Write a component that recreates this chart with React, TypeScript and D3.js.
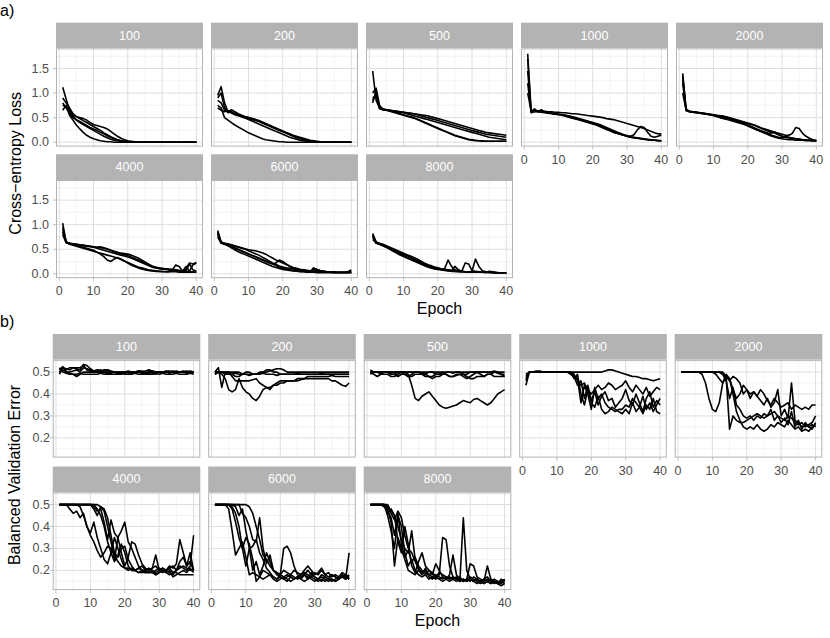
import React from 'react';
import * as d3 from 'd3';

// ---------- categories / ticks ----------
const epochs = d3.range(1, 41);
const panelLabels = ['100', '200', '500', '1000', '2000', '4000', '6000', '8000'];
const xTicks = [0, 10, 20, 30, 40];
const xMinor = [5, 15, 25, 35];
const lossYTicks = [0, 0.5, 1.0, 1.5];
const lossYMinor = [0.25, 0.75, 1.25, 1.75];
const errYTicks = [0.2, 0.3, 0.4, 0.5];
const errYMinor = [0.15, 0.25, 0.35, 0.45, 0.55];

// ---------- a) cross-entropy loss ----------
const loss100 = [
  [1.12,0.88,0.65,0.55,0.52,0.50,0.48,0.45,0.40,0.36,0.34,0.32,0.30,0.27,0.22,0.17,0.12,0.08,0.05,0.03,0.02,0.01,0.01,0.01,0.01,0.01,0,0,0,0,0,0,0,0,0,0,0,0,0,0],
  [0.90,0.80,0.70,0.58,0.52,0.48,0.44,0.40,0.36,0.32,0.28,0.24,0.19,0.15,0.11,0.08,0.05,0.03,0.02,0.01,0.01,0,0,0,0,0,0,0,0,0,0,0,0,0,0,0,0,0,0,0],
  [0.75,0.72,0.62,0.52,0.45,0.40,0.36,0.32,0.28,0.24,0.20,0.16,0.12,0.09,0.06,0.04,0.03,0.02,0.01,0.01,0,0,0,0,0,0,0,0,0,0,0,0,0,0,0,0,0,0,0,0],
  [0.65,0.75,0.55,0.45,0.35,0.27,0.20,0.14,0.10,0.07,0.05,0.03,0.02,0.01,0.01,0,0,0,0,0,0,0,0,0,0,0,0,0,0,0,0,0,0,0,0,0,0,0,0,0],
  [0.80,0.70,0.58,0.50,0.46,0.42,0.38,0.34,0.30,0.27,0.24,0.20,0.17,0.13,0.10,0.07,0.05,0.03,0.02,0.01,0.01,0,0,0,0,0,0,0,0,0,0,0,0,0,0,0,0,0,0,0],
];
const loss200 = [
  [0.95,1.13,0.80,0.62,0.60,0.58,0.56,0.54,0.52,0.50,0.48,0.46,0.43,0.40,0.37,0.34,0.31,0.28,0.25,0.22,0.19,0.16,0.13,0.10,0.08,0.06,0.04,0.03,0.02,0.01,0.01,0,0,0,0,0,0,0,0,0],
  [0.75,0.70,0.50,0.45,0.40,0.35,0.31,0.27,0.23,0.19,0.16,0.13,0.10,0.07,0.05,0.04,0.03,0.02,0.01,0.01,0,0,0,0,0,0,0,0,0,0,0,0,0,0,0,0,0,0,0,0],
  [0.70,0.65,0.62,0.64,0.60,0.56,0.54,0.52,0.50,0.48,0.46,0.44,0.42,0.39,0.36,0.33,0.30,0.27,0.24,0.21,0.18,0.15,0.12,0.09,0.07,0.05,0.03,0.02,0.01,0.01,0,0,0,0,0,0,0,0,0,0],
  [0.90,1.00,0.70,0.60,0.62,0.58,0.55,0.52,0.49,0.46,0.43,0.40,0.37,0.34,0.31,0.28,0.25,0.22,0.19,0.16,0.13,0.10,0.08,0.06,0.04,0.03,0.02,0.01,0.01,0,0,0,0,0,0,0,0,0,0,0],
  [0.85,0.80,0.65,0.62,0.66,0.62,0.58,0.55,0.52,0.50,0.48,0.46,0.44,0.41,0.38,0.35,0.32,0.29,0.26,0.23,0.20,0.17,0.14,0.12,0.10,0.08,0.06,0.04,0.03,0.02,0.01,0.01,0.01,0,0,0,0,0,0,0],
];
const loss500 = [
  [1.00,1.10,0.75,0.66,0.66,0.65,0.64,0.63,0.62,0.61,0.60,0.59,0.58,0.57,0.56,0.55,0.54,0.52,0.50,0.48,0.46,0.44,0.42,0.40,0.38,0.36,0.34,0.32,0.30,0.28,0.26,0.24,0.22,0.20,0.19,0.18,0.17,0.16,0.15,0.14],
  [1.45,0.85,0.70,0.67,0.66,0.65,0.64,0.63,0.62,0.61,0.60,0.59,0.58,0.56,0.54,0.52,0.50,0.48,0.46,0.44,0.42,0.40,0.38,0.36,0.34,0.32,0.30,0.28,0.26,0.24,0.22,0.20,0.18,0.16,0.15,0.14,0.13,0.12,0.11,0.10],
  [0.80,1.05,0.70,0.66,0.65,0.64,0.63,0.62,0.61,0.60,0.58,0.56,0.54,0.52,0.50,0.48,0.46,0.44,0.42,0.40,0.38,0.36,0.34,0.32,0.30,0.28,0.26,0.24,0.22,0.20,0.18,0.16,0.14,0.12,0.10,0.09,0.08,0.07,0.06,0.05],
  [0.90,0.95,0.72,0.68,0.66,0.64,0.62,0.60,0.58,0.56,0.54,0.52,0.50,0.47,0.44,0.41,0.38,0.35,0.32,0.29,0.26,0.23,0.20,0.17,0.14,0.12,0.10,0.08,0.06,0.05,0.04,0.03,0.03,0.02,0.02,0.02,0.02,0.02,0.02,0.02],
  [0.85,1.00,0.68,0.66,0.65,0.63,0.61,0.59,0.57,0.55,0.53,0.51,0.49,0.46,0.43,0.40,0.37,0.34,0.31,0.28,0.25,0.22,0.19,0.16,0.13,0.11,0.09,0.07,0.05,0.04,0.03,0.03,0.02,0.02,0.02,0.02,0.02,0.02,0.02,0.02],
];
const loss1000 = [
  [1.80,0.65,0.64,0.64,0.63,0.63,0.62,0.62,0.61,0.61,0.60,0.60,0.59,0.58,0.58,0.57,0.56,0.55,0.54,0.53,0.52,0.51,0.50,0.48,0.47,0.46,0.44,0.42,0.40,0.38,0.36,0.34,0.32,0.30,0.28,0.25,0.22,0.19,0.17,0.17],
  [1.45,0.62,0.68,0.62,0.62,0.61,0.60,0.59,0.58,0.57,0.56,0.55,0.54,0.52,0.50,0.48,0.46,0.44,0.42,0.40,0.38,0.36,0.33,0.30,0.27,0.24,0.21,0.18,0.15,0.13,0.12,0.15,0.25,0.32,0.30,0.20,0.12,0.10,0.12,0.14],
  [1.20,0.62,0.63,0.62,0.66,0.61,0.60,0.59,0.58,0.57,0.56,0.54,0.52,0.50,0.48,0.46,0.44,0.42,0.40,0.38,0.36,0.33,0.30,0.27,0.24,0.21,0.18,0.16,0.14,0.12,0.10,0.09,0.08,0.07,0.06,0.05,0.04,0.04,0.03,0.03],
  [1.00,0.64,0.64,0.62,0.62,0.61,0.60,0.59,0.58,0.57,0.56,0.55,0.53,0.51,0.49,0.47,0.45,0.43,0.41,0.39,0.37,0.34,0.31,0.28,0.25,0.22,0.19,0.17,0.15,0.13,0.11,0.10,0.09,0.08,0.07,0.06,0.05,0.04,0.04,0.03],
  [1.70,0.60,0.62,0.63,0.61,0.60,0.59,0.58,0.57,0.56,0.55,0.53,0.51,0.49,0.47,0.45,0.43,0.41,0.39,0.37,0.35,0.32,0.29,0.26,0.23,0.20,0.18,0.16,0.14,0.12,0.10,0.09,0.08,0.07,0.06,0.05,0.04,0.04,0.03,0.03],
];
const loss2000 = [
  [1.40,0.68,0.62,0.62,0.61,0.60,0.59,0.58,0.57,0.56,0.55,0.54,0.53,0.51,0.49,0.47,0.45,0.43,0.41,0.39,0.37,0.35,0.32,0.29,0.27,0.25,0.22,0.20,0.18,0.16,0.14,0.14,0.18,0.30,0.28,0.18,0.12,0.08,0.05,0.04],
  [1.20,0.65,0.62,0.61,0.60,0.59,0.58,0.57,0.56,0.55,0.54,0.52,0.50,0.48,0.46,0.44,0.42,0.40,0.37,0.34,0.31,0.28,0.25,0.22,0.20,0.18,0.19,0.20,0.15,0.12,0.10,0.09,0.08,0.07,0.06,0.05,0.05,0.04,0.04,0.03],
  [1.30,0.66,0.63,0.62,0.61,0.60,0.59,0.58,0.57,0.56,0.54,0.50,0.52,0.50,0.48,0.46,0.44,0.41,0.38,0.35,0.32,0.29,0.26,0.23,0.20,0.17,0.14,0.12,0.10,0.09,0.12,0.10,0.08,0.07,0.06,0.05,0.04,0.04,0.03,0.03],
  [1.35,0.64,0.62,0.61,0.60,0.59,0.58,0.57,0.56,0.55,0.54,0.53,0.52,0.50,0.48,0.46,0.44,0.42,0.40,0.38,0.36,0.34,0.31,0.28,0.25,0.22,0.22,0.18,0.15,0.12,0.10,0.09,0.08,0.07,0.06,0.05,0.04,0.04,0.03,0.03],
  [1.00,0.66,0.63,0.62,0.61,0.60,0.59,0.58,0.56,0.54,0.52,0.50,0.48,0.46,0.44,0.42,0.40,0.38,0.36,0.33,0.30,0.27,0.24,0.21,0.18,0.15,0.12,0.10,0.08,0.07,0.06,0.05,0.05,0.04,0.04,0.04,0.03,0.03,0.03,0.03],
];
const loss4000 = [
  [1.03,0.65,0.62,0.61,0.60,0.59,0.58,0.57,0.56,0.55,0.54,0.55,0.53,0.51,0.48,0.45,0.43,0.41,0.39,0.37,0.34,0.31,0.28,0.25,0.22,0.19,0.16,0.14,0.12,0.11,0.10,0.09,0.08,0.07,0.06,0.05,0.05,0.04,0.04,0.03],
  [0.85,0.64,0.62,0.60,0.58,0.56,0.54,0.52,0.50,0.48,0.44,0.40,0.35,0.28,0.25,0.30,0.33,0.30,0.26,0.22,0.18,0.15,0.12,0.10,0.08,0.07,0.06,0.05,0.05,0.04,0.04,0.04,0.08,0.18,0.15,0.05,0.10,0.22,0.20,0.23],
  [0.80,0.63,0.61,0.60,0.59,0.58,0.57,0.56,0.55,0.54,0.52,0.50,0.48,0.46,0.44,0.42,0.40,0.38,0.36,0.34,0.32,0.29,0.26,0.23,0.20,0.17,0.14,0.12,0.11,0.10,0.10,0.09,0.09,0.08,0.07,0.06,0.06,0.20,0.08,0.05],
  [0.95,0.65,0.62,0.61,0.60,0.59,0.58,0.57,0.56,0.55,0.54,0.53,0.52,0.50,0.48,0.46,0.44,0.42,0.41,0.40,0.38,0.35,0.32,0.28,0.24,0.20,0.16,0.13,0.11,0.10,0.09,0.08,0.07,0.06,0.05,0.05,0.15,0.05,0.18,0.22],
  [0.90,0.64,0.60,0.58,0.56,0.54,0.52,0.50,0.48,0.46,0.44,0.42,0.40,0.38,0.36,0.34,0.32,0.29,0.26,0.23,0.20,0.17,0.14,0.12,0.10,0.08,0.07,0.06,0.05,0.05,0.04,0.04,0.04,0.04,0.03,0.03,0.03,0.03,0.03,0.03],
];
const loss6000 = [
  [0.88,0.65,0.62,0.61,0.59,0.57,0.55,0.53,0.51,0.49,0.48,0.47,0.45,0.43,0.40,0.36,0.32,0.28,0.25,0.22,0.19,0.16,0.13,0.11,0.09,0.08,0.07,0.06,0.05,0.05,0.04,0.04,0.03,0.03,0.03,0.03,0.03,0.03,0.04,0.08],
  [0.80,0.63,0.60,0.58,0.55,0.52,0.49,0.46,0.43,0.40,0.37,0.34,0.31,0.28,0.25,0.22,0.20,0.22,0.28,0.25,0.20,0.15,0.12,0.10,0.08,0.07,0.06,0.05,0.10,0.08,0.06,0.05,0.04,0.04,0.03,0.03,0.03,0.03,0.03,0.03],
  [0.85,0.64,0.61,0.59,0.56,0.53,0.50,0.47,0.44,0.41,0.38,0.35,0.32,0.29,0.26,0.23,0.20,0.17,0.14,0.12,0.10,0.08,0.07,0.06,0.05,0.05,0.04,0.04,0.12,0.09,0.06,0.04,0.03,0.03,0.02,0.02,0.02,0.02,0.02,0.02],
  [0.75,0.62,0.60,0.57,0.53,0.49,0.45,0.42,0.39,0.36,0.33,0.30,0.27,0.24,0.21,0.18,0.15,0.13,0.11,0.09,0.08,0.07,0.06,0.05,0.04,0.04,0.03,0.03,0.03,0.02,0.02,0.02,0.02,0.02,0.02,0.02,0.02,0.02,0.02,0.02],
  [0.82,0.64,0.62,0.60,0.58,0.56,0.54,0.52,0.50,0.47,0.44,0.41,0.38,0.34,0.30,0.26,0.22,0.19,0.16,0.14,0.12,0.11,0.10,0.09,0.08,0.07,0.06,0.05,0.08,0.07,0.06,0.05,0.04,0.04,0.04,0.03,0.03,0.03,0.03,0.05],
];
const loss8000 = [
  [0.82,0.65,0.62,0.60,0.57,0.54,0.51,0.48,0.45,0.42,0.39,0.36,0.33,0.30,0.26,0.22,0.19,0.16,0.14,0.12,0.10,0.09,0.08,0.07,0.06,0.05,0.05,0.04,0.04,0.04,0.03,0.03,0.03,0.03,0.03,0.02,0.02,0.02,0.02,0.02],
  [0.78,0.64,0.61,0.58,0.55,0.52,0.49,0.46,0.42,0.38,0.34,0.30,0.28,0.25,0.22,0.20,0.18,0.15,0.13,0.11,0.09,0.10,0.28,0.15,0.08,0.06,0.05,0.04,0.04,0.03,0.03,0.03,0.03,0.03,0.02,0.02,0.02,0.02,0.02,0.02],
  [0.80,0.63,0.60,0.57,0.54,0.51,0.48,0.44,0.40,0.36,0.33,0.30,0.27,0.24,0.21,0.18,0.16,0.17,0.13,0.11,0.09,0.08,0.07,0.06,0.15,0.08,0.05,0.22,0.20,0.06,0.05,0.04,0.03,0.03,0.03,0.03,0.02,0.02,0.02,0.02],
  [0.75,0.62,0.60,0.57,0.54,0.50,0.46,0.42,0.38,0.35,0.32,0.29,0.26,0.23,0.20,0.17,0.14,0.12,0.10,0.09,0.08,0.07,0.06,0.05,0.05,0.04,0.04,0.04,0.03,0.05,0.30,0.15,0.06,0.04,0.03,0.03,0.02,0.02,0.02,0.02],
  [0.70,0.63,0.60,0.58,0.55,0.52,0.49,0.46,0.43,0.40,0.37,0.34,0.30,0.27,0.24,0.21,0.18,0.15,0.13,0.11,0.09,0.08,0.07,0.06,0.05,0.05,0.04,0.04,0.04,0.03,0.03,0.03,0.03,0.02,0.05,0.04,0.03,0.02,0.02,0.02],
];

// ---------- b) balanced validation error ----------
const err100 = [
  [0.49,0.52,0.515,0.51,0.52,0.52,0.52,0.53,0.51,0.505,0.50,0.50,0.50,0.505,0.505,0.50,0.50,0.495,0.495,0.50,0.50,0.50,0.50,0.505,0.50,0.495,0.495,0.50,0.50,0.50,0.50,0.50,0.495,0.50,0.50,0.50,0.50,0.495,0.50,0.50],
  [0.51,0.525,0.50,0.495,0.49,0.48,0.49,0.50,0.50,0.50,0.50,0.505,0.51,0.50,0.49,0.495,0.50,0.49,0.49,0.495,0.50,0.495,0.50,0.505,0.505,0.50,0.50,0.495,0.49,0.50,0.50,0.50,0.50,0.505,0.50,0.50,0.50,0.50,0.495,0.495],
  [0.50,0.52,0.51,0.52,0.52,0.515,0.51,0.535,0.53,0.515,0.505,0.51,0.505,0.51,0.51,0.505,0.50,0.50,0.50,0.50,0.495,0.50,0.50,0.50,0.495,0.495,0.50,0.505,0.50,0.50,0.495,0.50,0.50,0.50,0.505,0.50,0.50,0.505,0.50,0.50],
  [0.52,0.50,0.495,0.49,0.49,0.49,0.495,0.49,0.49,0.49,0.49,0.49,0.495,0.49,0.49,0.49,0.49,0.49,0.495,0.49,0.49,0.49,0.495,0.49,0.49,0.49,0.49,0.49,0.495,0.49,0.495,0.49,0.49,0.49,0.495,0.49,0.49,0.49,0.495,0.49],
  [0.50,0.51,0.50,0.50,0.505,0.51,0.50,0.52,0.515,0.51,0.505,0.50,0.50,0.50,0.50,0.50,0.50,0.50,0.50,0.50,0.505,0.50,0.50,0.50,0.50,0.505,0.51,0.505,0.50,0.50,0.50,0.505,0.505,0.50,0.50,0.50,0.505,0.50,0.505,0.50],
];
const err200 = [
  [0.49,0.50,0.49,0.47,0.42,0.41,0.42,0.47,0.43,0.41,0.40,0.38,0.37,0.39,0.42,0.43,0.42,0.44,0.44,0.45,0.45,0.46,0.46,0.46,0.47,0.47,0.47,0.48,0.48,0.48,0.48,0.48,0.48,0.48,0.485,0.48,0.48,0.48,0.48,0.48],
  [0.50,0.52,0.43,0.50,0.49,0.49,0.495,0.49,0.49,0.49,0.485,0.49,0.49,0.49,0.495,0.49,0.49,0.49,0.485,0.49,0.49,0.49,0.49,0.49,0.495,0.49,0.49,0.49,0.49,0.49,0.49,0.495,0.49,0.49,0.49,0.49,0.49,0.49,0.49,0.49],
  [0.49,0.50,0.50,0.50,0.50,0.48,0.46,0.46,0.46,0.46,0.46,0.465,0.47,0.45,0.44,0.43,0.43,0.44,0.45,0.46,0.46,0.46,0.46,0.46,0.46,0.465,0.47,0.47,0.47,0.47,0.47,0.47,0.47,0.47,0.46,0.46,0.45,0.44,0.435,0.45],
  [0.50,0.50,0.50,0.49,0.49,0.49,0.48,0.48,0.49,0.50,0.50,0.49,0.49,0.50,0.50,0.51,0.51,0.50,0.50,0.49,0.49,0.49,0.49,0.49,0.49,0.49,0.49,0.49,0.49,0.49,0.49,0.49,0.49,0.49,0.49,0.49,0.49,0.49,0.49,0.49],
  [0.50,0.50,0.50,0.50,0.50,0.50,0.50,0.50,0.49,0.49,0.49,0.49,0.49,0.495,0.50,0.50,0.505,0.51,0.515,0.515,0.51,0.50,0.50,0.50,0.50,0.50,0.50,0.50,0.50,0.50,0.50,0.50,0.50,0.50,0.50,0.50,0.50,0.50,0.50,0.50],
];
const err500 = [
  [0.51,0.50,0.50,0.50,0.50,0.50,0.49,0.49,0.50,0.50,0.50,0.49,0.44,0.38,0.37,0.39,0.40,0.41,0.39,0.37,0.35,0.34,0.335,0.34,0.345,0.35,0.36,0.37,0.365,0.36,0.375,0.38,0.37,0.36,0.35,0.36,0.38,0.40,0.41,0.42],
  [0.50,0.49,0.48,0.49,0.50,0.50,0.49,0.49,0.48,0.49,0.49,0.48,0.49,0.50,0.50,0.49,0.49,0.48,0.48,0.49,0.49,0.50,0.49,0.48,0.48,0.49,0.49,0.48,0.47,0.48,0.49,0.50,0.49,0.48,0.49,0.49,0.50,0.50,0.49,0.48],
  [0.50,0.50,0.50,0.50,0.50,0.50,0.50,0.50,0.50,0.50,0.50,0.50,0.50,0.50,0.50,0.495,0.49,0.50,0.50,0.49,0.49,0.49,0.50,0.50,0.495,0.50,0.50,0.49,0.49,0.50,0.50,0.50,0.50,0.50,0.50,0.50,0.50,0.495,0.49,0.49],
  [0.49,0.50,0.50,0.49,0.49,0.49,0.48,0.48,0.49,0.50,0.49,0.48,0.48,0.49,0.49,0.49,0.48,0.48,0.47,0.48,0.48,0.49,0.49,0.48,0.48,0.485,0.49,0.49,0.48,0.47,0.47,0.48,0.48,0.48,0.49,0.49,0.48,0.48,0.48,0.48],
  [0.50,0.50,0.50,0.50,0.50,0.50,0.50,0.50,0.50,0.50,0.50,0.50,0.50,0.50,0.50,0.50,0.50,0.50,0.50,0.50,0.50,0.50,0.50,0.50,0.50,0.50,0.50,0.50,0.50,0.50,0.50,0.50,0.50,0.50,0.50,0.50,0.505,0.50,0.50,0.50],
];
const err1000 = [
  [0.44,0.50,0.50,0.505,0.505,0.50,0.50,0.50,0.50,0.50,0.50,0.50,0.50,0.50,0.50,0.50,0.50,0.50,0.50,0.50,0.50,0.50,0.50,0.505,0.51,0.51,0.505,0.50,0.495,0.49,0.485,0.48,0.48,0.475,0.47,0.47,0.465,0.46,0.465,0.47],
  [0.47,0.50,0.50,0.50,0.50,0.50,0.50,0.50,0.50,0.50,0.50,0.50,0.50,0.50,0.49,0.46,0.44,0.45,0.42,0.40,0.42,0.44,0.42,0.43,0.45,0.44,0.42,0.43,0.44,0.46,0.43,0.41,0.44,0.42,0.40,0.43,0.39,0.41,0.43,0.42],
  [0.48,0.50,0.50,0.50,0.50,0.50,0.50,0.50,0.50,0.50,0.50,0.50,0.50,0.50,0.48,0.47,0.36,0.44,0.40,0.33,0.43,0.38,0.40,0.36,0.34,0.33,0.32,0.33,0.33,0.35,0.34,0.38,0.36,0.34,0.39,0.33,0.36,0.32,0.35,0.38],
  [0.49,0.50,0.50,0.50,0.50,0.50,0.50,0.50,0.50,0.50,0.50,0.50,0.50,0.49,0.48,0.44,0.46,0.38,0.44,0.37,0.41,0.35,0.39,0.41,0.37,0.38,0.34,0.36,0.38,0.42,0.37,0.35,0.40,0.36,0.32,0.38,0.41,0.34,0.37,0.35],
  [0.46,0.50,0.50,0.50,0.50,0.50,0.50,0.50,0.50,0.50,0.50,0.50,0.50,0.50,0.47,0.49,0.40,0.35,0.42,0.36,0.34,0.39,0.33,0.31,0.32,0.34,0.33,0.32,0.31,0.33,0.31,0.36,0.32,0.34,0.31,0.35,0.33,0.38,0.32,0.31],
];
const err2000 = [
  [0.50,0.50,0.50,0.50,0.50,0.50,0.49,0.45,0.38,0.33,0.32,0.36,0.45,0.49,0.47,0.42,0.38,0.40,0.44,0.42,0.40,0.41,0.39,0.42,0.40,0.37,0.35,0.38,0.36,0.34,0.35,0.36,0.33,0.35,0.34,0.33,0.34,0.33,0.35,0.35],
  [0.50,0.50,0.50,0.50,0.50,0.50,0.50,0.50,0.50,0.50,0.49,0.47,0.45,0.48,0.24,0.30,0.28,0.27,0.27,0.28,0.29,0.30,0.31,0.30,0.29,0.30,0.31,0.32,0.30,0.29,0.28,0.30,0.29,0.27,0.26,0.27,0.25,0.26,0.27,0.30],
  [0.50,0.50,0.50,0.50,0.50,0.50,0.50,0.50,0.50,0.50,0.50,0.50,0.49,0.48,0.47,0.40,0.32,0.28,0.25,0.24,0.25,0.24,0.26,0.24,0.23,0.24,0.26,0.25,0.27,0.26,0.25,0.28,0.26,0.24,0.25,0.23,0.24,0.23,0.25,0.26],
  [0.50,0.50,0.50,0.50,0.50,0.50,0.50,0.50,0.50,0.50,0.50,0.50,0.50,0.48,0.46,0.48,0.47,0.45,0.40,0.42,0.38,0.41,0.39,0.37,0.35,0.38,0.34,0.36,0.42,0.30,0.33,0.29,0.45,0.28,0.27,0.25,0.26,0.25,0.24,0.27],
  [0.50,0.50,0.50,0.50,0.50,0.50,0.50,0.50,0.50,0.50,0.50,0.50,0.49,0.46,0.38,0.43,0.35,0.33,0.30,0.29,0.30,0.28,0.30,0.29,0.31,0.30,0.33,0.28,0.30,0.27,0.29,0.26,0.32,0.25,0.28,0.24,0.27,0.25,0.26,0.25],
];
const err4000 = [
  [0.50,0.50,0.50,0.50,0.50,0.50,0.49,0.45,0.40,0.36,0.33,0.29,0.26,0.28,0.31,0.30,0.27,0.24,0.22,0.21,0.21,0.20,0.20,0.19,0.19,0.19,0.19,0.19,0.18,0.19,0.20,0.19,0.18,0.19,0.19,0.18,0.18,0.18,0.18,0.18],
  [0.50,0.50,0.50,0.48,0.46,0.47,0.44,0.46,0.40,0.37,0.42,0.35,0.30,0.25,0.23,0.28,0.35,0.30,0.25,0.21,0.20,0.21,0.20,0.21,0.20,0.19,0.20,0.21,0.27,0.20,0.21,0.20,0.21,0.22,0.20,0.21,0.22,0.21,0.20,0.20],
  [0.50,0.50,0.50,0.50,0.50,0.50,0.50,0.50,0.50,0.50,0.49,0.47,0.48,0.42,0.34,0.43,0.37,0.35,0.38,0.42,0.33,0.30,0.26,0.22,0.20,0.20,0.19,0.19,0.20,0.21,0.20,0.20,0.19,0.18,0.20,0.24,0.26,0.22,0.24,0.20],
  [0.50,0.50,0.50,0.50,0.50,0.50,0.50,0.50,0.50,0.50,0.48,0.45,0.49,0.47,0.40,0.33,0.25,0.35,0.28,0.22,0.26,0.33,0.32,0.27,0.23,0.21,0.20,0.21,0.22,0.20,0.21,0.20,0.22,0.21,0.23,0.34,0.28,0.22,0.28,0.20],
  [0.50,0.50,0.50,0.50,0.50,0.50,0.50,0.50,0.50,0.50,0.50,0.50,0.49,0.48,0.44,0.36,0.28,0.26,0.30,0.31,0.25,0.22,0.20,0.21,0.22,0.20,0.21,0.20,0.19,0.20,0.19,0.20,0.21,0.19,0.20,0.22,0.21,0.20,0.22,0.36],
  [0.50,0.50,0.50,0.50,0.50,0.50,0.50,0.50,0.50,0.50,0.50,0.48,0.45,0.40,0.33,0.28,0.24,0.27,0.32,0.28,0.22,0.20,0.20,0.19,0.20,0.19,0.19,0.20,0.18,0.19,0.20,0.19,0.20,0.17,0.18,0.19,0.20,0.19,0.21,0.19],
];
const err6000 = [
  [0.50,0.50,0.50,0.50,0.48,0.38,0.27,0.30,0.33,0.26,0.18,0.19,0.18,0.17,0.16,0.17,0.18,0.16,0.15,0.16,0.17,0.16,0.15,0.16,0.17,0.16,0.15,0.16,0.17,0.16,0.15,0.16,0.15,0.16,0.16,0.15,0.16,0.17,0.16,0.17],
  [0.50,0.50,0.50,0.50,0.50,0.48,0.42,0.35,0.30,0.35,0.32,0.25,0.15,0.17,0.20,0.19,0.18,0.17,0.16,0.18,0.30,0.31,0.28,0.22,0.18,0.17,0.18,0.20,0.18,0.17,0.16,0.15,0.17,0.16,0.15,0.16,0.17,0.18,0.16,0.28],
  [0.50,0.50,0.50,0.50,0.50,0.50,0.50,0.50,0.46,0.44,0.40,0.34,0.33,0.44,0.30,0.23,0.27,0.20,0.19,0.18,0.20,0.19,0.18,0.20,0.19,0.18,0.20,0.22,0.20,0.18,0.19,0.21,0.18,0.19,0.17,0.18,0.17,0.19,0.18,0.17],
  [0.50,0.50,0.50,0.50,0.50,0.49,0.46,0.40,0.30,0.22,0.30,0.31,0.34,0.28,0.25,0.21,0.19,0.17,0.16,0.17,0.16,0.17,0.18,0.17,0.16,0.17,0.18,0.16,0.19,0.17,0.16,0.18,0.17,0.16,0.18,0.17,0.16,0.18,0.17,0.16],
  [0.50,0.50,0.50,0.50,0.50,0.50,0.49,0.45,0.48,0.38,0.30,0.20,0.24,0.18,0.22,0.28,0.24,0.20,0.18,0.17,0.16,0.15,0.17,0.16,0.17,0.18,0.19,0.18,0.17,0.19,0.18,0.20,0.18,0.17,0.18,0.17,0.16,0.17,0.18,0.16],
  [0.50,0.50,0.50,0.50,0.50,0.50,0.50,0.50,0.50,0.50,0.49,0.46,0.40,0.34,0.27,0.25,0.22,0.20,0.19,0.18,0.17,0.18,0.17,0.16,0.17,0.16,0.18,0.17,0.16,0.15,0.16,0.17,0.16,0.15,0.16,0.15,0.16,0.17,0.16,0.18],
];
const err8000 = [
  [0.50,0.50,0.50,0.50,0.50,0.45,0.38,0.30,0.45,0.40,0.28,0.22,0.25,0.20,0.18,0.17,0.18,0.16,0.17,0.16,0.18,0.35,0.34,0.22,0.17,0.16,0.15,0.16,0.15,0.16,0.15,0.16,0.15,0.14,0.15,0.16,0.15,0.14,0.15,0.15],
  [0.50,0.50,0.50,0.50,0.50,0.48,0.42,0.22,0.35,0.30,0.25,0.20,0.19,0.18,0.20,0.19,0.18,0.20,0.19,0.17,0.16,0.17,0.16,0.18,0.27,0.18,0.16,0.15,0.16,0.17,0.16,0.15,0.14,0.15,0.16,0.15,0.14,0.15,0.14,0.16],
  [0.50,0.50,0.50,0.50,0.50,0.50,0.47,0.45,0.40,0.34,0.30,0.28,0.38,0.25,0.20,0.18,0.21,0.17,0.16,0.17,0.16,0.15,0.16,0.17,0.16,0.17,0.15,0.44,0.20,0.16,0.15,0.16,0.15,0.14,0.15,0.14,0.15,0.14,0.13,0.14],
  [0.50,0.50,0.50,0.50,0.50,0.46,0.48,0.45,0.33,0.28,0.40,0.32,0.22,0.19,0.24,0.28,0.22,0.20,0.18,0.23,0.20,0.17,0.16,0.15,0.16,0.15,0.16,0.15,0.16,0.23,0.22,0.17,0.16,0.15,0.22,0.16,0.15,0.14,0.15,0.14],
  [0.50,0.50,0.50,0.50,0.49,0.47,0.44,0.36,0.46,0.32,0.26,0.29,0.24,0.26,0.22,0.20,0.19,0.18,0.19,0.17,0.19,0.18,0.17,0.16,0.17,0.16,0.17,0.15,0.16,0.15,0.17,0.16,0.15,0.16,0.17,0.15,0.16,0.15,0.14,0.16],
  [0.50,0.50,0.50,0.50,0.50,0.49,0.46,0.43,0.47,0.44,0.36,0.30,0.28,0.24,0.21,0.19,0.20,0.18,0.17,0.18,0.17,0.16,0.17,0.16,0.17,0.16,0.15,0.16,0.15,0.16,0.15,0.14,0.15,0.16,0.15,0.14,0.15,0.14,0.16,0.15],
];

const lossPanels = [loss100, loss200, loss500, loss1000, loss2000, loss4000, loss6000, loss8000];
const errPanels = [err100, err200, err500, err1000, err2000, err4000, err6000, err8000];

const FONT = '"Liberation Sans", Arial, Helvetica, sans-serif';
const TICK_FS = 12.5;
const STRIP_FS = 12.5;
const TITLE_FS = 16;

type Layout = {
  left0: number; step: number; width: number;
  rowTops: number[]; stripH: number; panelH: number;
  yLabelX: number; yTitleX: number; tag: string; tagY: number;
  yTitle: string; epochY: number;
};

function Facets(props: {
  panels: number[][][]; layout: Layout; yDomain: [number, number];
  yTicks: number[]; yMinor: number[]; yFmt: (v: number) => string;
}) {
  const { panels, layout: L, yDomain, yTicks, yMinor, yFmt } = props;
  const ncol = 5;
  const x = d3.scaleLinear().domain([-0.95, 41.95]).range([0, L.width]);
  const y = d3.scaleLinear().domain(yDomain).range([L.panelH, 0]);
  const line = d3.line<number>().x((_, i) => x(epochs[i])).y((d) => y(d));
  const totalTop = L.rowTops[0] + L.stripH;
  const totalBottom = L.rowTops[1] + L.stripH + L.panelH;
  const totalLeft = L.left0;
  const totalRight = L.left0 + (ncol - 1) * L.step + L.width;
  return (
    <g>
      <text x={0} y={L.tagY} fontSize={TITLE_FS} fontFamily={FONT} fill="#000">{L.tag}</text>
      <text
        transform={`translate(${L.yTitleX},${(totalTop + totalBottom) / 2}) rotate(-90)`}
        textAnchor="middle" fontSize={TITLE_FS} fontFamily={FONT} fill="#000" dominantBaseline="central"
      >{L.yTitle}</text>
      <text x={(totalLeft + totalRight) / 2} y={L.epochY} textAnchor="middle" fontSize={TITLE_FS} fontFamily={FONT} fill="#000">Epoch</text>
      {panels.map((runs, p) => {
        const col = p % ncol;
        const row = Math.floor(p / ncol);
        const px = L.left0 + col * L.step;
        const top = L.rowTops[row];
        const py = top + L.stripH;
        const showX = row === 1 || p + ncol >= panels.length;
        const showY = col === 0;
        return (
          <g key={p}>
            <rect x={px} y={top} width={L.width} height={L.stripH} fill="#b3b3b3" />
            <text x={px + L.width / 2} y={top + L.stripH / 2} textAnchor="middle" dominantBaseline="central"
              fontSize={STRIP_FS} fontFamily={FONT} fill="#fff">{panelLabels[p]}</text>
            <g transform={`translate(${px},${py})`}>
              <rect x={0} y={0} width={L.width} height={L.panelH} fill="#fff" />
              {yMinor.map((v) => (y(v) >= 0 && y(v) <= L.panelH ?
                <line key={'ym' + v} x1={0} x2={L.width} y1={y(v)} y2={y(v)} stroke="#ebebeb" strokeWidth={0.6} /> : null))}
              {xMinor.map((v) => <line key={'xm' + v} x1={x(v)} x2={x(v)} y1={0} y2={L.panelH} stroke="#ebebeb" strokeWidth={0.6} />)}
              {yTicks.map((v) => <line key={'yM' + v} x1={0} x2={L.width} y1={y(v)} y2={y(v)} stroke="#dedede" strokeWidth={1} />)}
              {xTicks.map((v) => <line key={'xM' + v} x1={x(v)} x2={x(v)} y1={0} y2={L.panelH} stroke="#dedede" strokeWidth={1} />)}
              {runs.map((r, i) => (
                <path key={i} d={line(r) || ''} fill="none" stroke="#000" strokeWidth={1.6} strokeLinejoin="round" />
              ))}
              <rect x={0.5} y={0.5} width={L.width - 1} height={L.panelH - 1} fill="none" stroke="#b3b3b3" strokeWidth={1} />
              {showX && xTicks.map((v) => (
                <g key={'xt' + v}>
                  <line x1={x(v)} x2={x(v)} y1={L.panelH} y2={L.panelH + 3} stroke="#b3b3b3" strokeWidth={0.8} />
                  <text x={x(v)} y={L.panelH + 17} textAnchor="middle" fontSize={TICK_FS} fontFamily={FONT} fill="#4d4d4d">{v}</text>
                </g>
              ))}
              {showY && yTicks.map((v) => (
                <g key={'yt' + v}>
                  <line x1={-3} x2={0} y1={y(v)} y2={y(v)} stroke="#b3b3b3" strokeWidth={0.8} />
                  <text x={L.yLabelX - px} y={y(v)} textAnchor="end" dominantBaseline="central" fontSize={TICK_FS} fontFamily={FONT} fill="#4d4d4d">{yFmt(v)}</text>
                </g>
              ))}
            </g>
          </g>
        );
      })}
    </g>
  );
}

const layoutA: Layout = {
  left0: 56, step: 155, width: 147, rowTops: [22.7, 154.3], stripH: 25.7, panelH: 98.2,
  yLabelX: 49, yTitleX: 15, tag: 'a)', tagY: 16, yTitle: 'Cross\u2212entropy Loss', epochY: 314,
};
const layoutB: Layout = {
  left0: 52.7, step: 155.5, width: 147.6, rowTops: [334, 466.5], stripH: 25.8, panelH: 97.8,
  yLabelX: 50, yTitleX: 14, tag: 'b)', tagY: 327, yTitle: 'Balanced Validation Error', epochY: 626,
};

export default function App() {
  return (
    <div style={{ position: 'absolute', left: 0, top: 0, width: 830, height: 638, background: '#fff' }}>
      <svg width={830} height={638} style={{ display: 'block' }}>
        <rect width={830} height={638} fill="#fff" />
        <Facets panels={lossPanels} layout={layoutA} yDomain={[-0.09, 1.91]} yTicks={lossYTicks} yMinor={lossYMinor} yFmt={d3.format('.1f')} />
        <Facets panels={errPanels} layout={layoutB} yDomain={[0.11, 0.556]} yTicks={errYTicks} yMinor={errYMinor} yFmt={d3.format('.1f')} />
      </svg>
    </div>
  );
}
